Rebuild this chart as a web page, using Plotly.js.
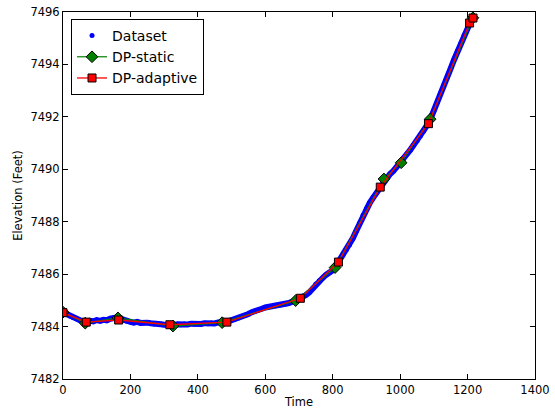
<!DOCTYPE html>
<html>
<head>
<meta charset="utf-8">
<script src="https://cdn.plot.ly/plotly-3.0.1.min.js"></script>
<style>html,body{margin:0;padding:0;background:#fff;}#chart{width:555px;height:415px;}</style>
</head>
<body>
<div id="chart"></div>
<script>
// Dataset (time step 10)
const dataTime = [];
for (let i = 0; i <= 122; i++) dataTime.push(i * 10);
const dataElev = [
7484.55,7484.48,7484.40,7484.35,7484.30,7484.24,7484.20,7484.17,7484.22,7484.20,
7484.25,7484.22,7484.26,7484.24,7484.30,7484.33,7484.35,7484.30,7484.24,7484.20,
7484.18,7484.15,7484.18,7484.14,7484.16,7484.15,7484.13,7484.10,7484.12,7484.09,
7484.07,7484.05,7484.08,7484.06,7484.09,7484.07,7484.10,7484.08,7484.11,7484.09,
7484.12,7484.10,7484.13,7484.11,7484.14,7484.12,7484.16,7484.15,7484.17,7484.20,
7484.24,7484.28,7484.33,7484.38,7484.42,7484.48,7484.55,7484.58,7484.63,7484.68,
7484.73,7484.75,7484.77,7484.79,7484.80,7484.83,7484.86,7484.90,7484.95,7485.00,
7485.06,7485.12,7485.20,7485.30,7485.45,7485.62,7485.75,7485.85,7485.97,7486.05,
7486.15,7486.32,7486.52,7486.72,7486.92,7487.12,7487.38,7487.66,7487.95,7488.25,
7488.50,7488.72,7488.92,7489.10,7489.30,7489.52,7489.68,7489.82,7489.94,7490.08,
7490.24,7490.40,7490.58,7490.74,7490.92,7491.08,7491.27,7491.46,7491.68,7491.92,
7492.22,7492.55,7492.90,7493.22,7493.52,7493.85,7494.18,7494.50,7494.80,7495.12,
7495.42,7495.66,7495.82
];

const staticTime = [0, 66, 163, 326, 472, 690, 807, 952, 1003, 1089, 1216];
const staticElev = [7484.55, 7484.13, 7484.33, 7484.02, 7484.15, 7484.99, 7486.25, 7489.63, 7490.25, 7491.91, 7495.78];

const adaptTime = [0, 69, 165, 317, 486, 704, 817, 941, 1084, 1206, 1216];
const adaptElev = [7484.53, 7484.17, 7484.25, 7484.07, 7484.17, 7485.08, 7486.46, 7489.32, 7491.74, 7495.58, 7495.77];

const xTicks = [0, 200, 400, 600, 800, 1000, 1200, 1400];
const yTicks = [7482, 7484, 7486, 7488, 7490, 7492, 7494, 7496];

const font = 'DejaVu Sans, sans-serif';

const traces = [
  {x: dataTime, y: dataElev, name: 'Dataset', mode: 'lines', type: 'scatter', showlegend: false,
   line: {color: '#0000ff', width: 6}, hoverinfo: 'skip'},
  {x: dataTime, y: dataElev, name: 'Dataset', mode: 'markers', type: 'scatter',
   marker: {color: '#0000ff', size: 5, line: {width: 0}}},
  {x: staticTime, y: staticElev, name: 'DP-static', mode: 'lines+markers', type: 'scatter',
   line: {color: '#008000', width: 1.2},
   marker: {symbol: 'diamond', color: '#008000', size: 9, line: {color: '#000', width: 1}}},
  {x: adaptTime, y: adaptElev, name: 'DP-adaptive', mode: 'lines+markers', type: 'scatter',
   line: {color: '#ff0000', width: 1.3},
   marker: {symbol: 'square', color: '#ff0000', size: 8, line: {color: '#000', width: 1}}}
];

const axisCommon = {
  showgrid: false, zeroline: false, showline: true, linecolor: '#000', linewidth: 1,
  mirror: 'ticks', ticks: 'inside', ticklen: 5, tickcolor: '#000', tickwidth: 1,
  tickfont: {family: font, size: 11.5, color: '#000'}
};

const layout = {
  width: 555, height: 415,
  margin: {l: 63, r: 20, t: 12, b: 36},
  paper_bgcolor: '#fff', plot_bgcolor: '#fff',
  font: {family: font, color: '#000'},
  showlegend: true,
  legend: {x: 0.017, y: 0.981, xanchor: 'left', yanchor: 'top',
    bgcolor: '#fff', bordercolor: '#000', borderwidth: 1,
    font: {family: font, size: 14, color: '#000'}, tracegroupgap: 0},
  xaxis: Object.assign({}, axisCommon, {range: [0, 1400], tickvals: xTicks, ticktext: xTicks.map(String),
    title: {text: 'Time', font: {family: font, size: 11.5}, standoff: 2}}),
  yaxis: Object.assign({}, axisCommon, {range: [7482, 7496], tickvals: yTicks, ticktext: yTicks.map(String),
    title: {text: 'Elevation (Feet)', font: {family: font, size: 11.5}, standoff: 5}})
};

Plotly.newPlot('chart', traces, layout, {displayModeBar: false, staticPlot: true});
</script>
</body>
</html>
